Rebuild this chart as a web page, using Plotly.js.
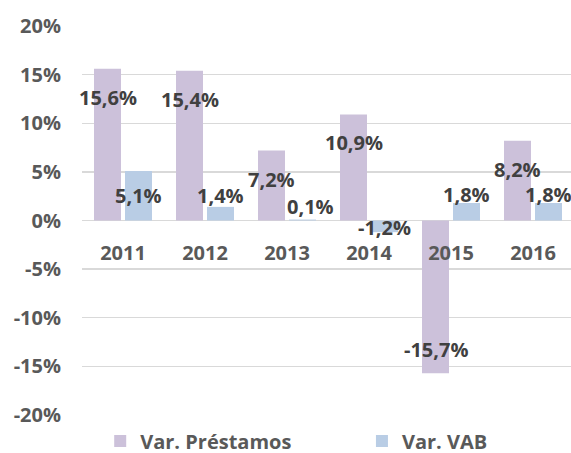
<!DOCTYPE html>
<html>
<head>
<meta charset="utf-8">
<script src="https://cdn.plot.ly/plotly-3.0.1.min.js"></script>
<style>
html, body { margin: 0; padding: 0; overflow: hidden; background: #fff; }
#chart { width: 574px; height: 453px; }
</style>
</head>
<body>
<div id="chart"></div>
<script>
const years = ['2011', '2012', '2013', '2014', '2015', '2016'];
const prestamos = [15.6, 15.4, 7.2, 10.9, -15.7, 8.2];
const vab = [5.1, 1.4, 0.1, -1.2, 1.8, 1.8];
const seriesNames = ['Var. Préstamos', 'Var. VAB'];
const yTickVals = [-20, -15, -10, -5, 0, 5, 10, 15, 20];
const yTickText = ['-20%', '-15%', '-10%', '-5%', '0%', '5%', '10%', '15%', '20%'];

// label placement (pixels, style only)
const prestamosLabelDy = [-29, -29, -29.5, -28, 24, -29];
const vabLabelDy = [-24.5, 11, 13, 5, 8.5, 8.5];
const vabLabelDx = [0, 0, 8, 0, 0, 0];

const textColor = '#595959';
const labelColor = '#404040';
const fontFamily = '"Open Sans", "Liberation Sans", sans-serif';
const purple = '#CCC1DA';
const blue = '#B9CDE5';

function fmt(v) { return v.toFixed(1).replace('.', ',') + '%'; }

const traces = [
  { type: 'bar', name: seriesNames[0], x: years, y: prestamos, marker: { color: purple }, hoverinfo: 'none', legend: 'legend' },
  { type: 'bar', name: seriesNames[1], x: years, y: vab, marker: { color: blue }, hoverinfo: 'none', legend: 'legend2' }
];

const labelFont = { family: fontFamily, size: 20, color: labelColor, weight: 'bold' };
const annotations = [];
years.forEach((yr, i) => {
  annotations.push({ x: i, y: prestamos[i], xref: 'x', yref: 'y', text: fmt(prestamos[i]),
    showarrow: false, xshift: -15.5, yshift: prestamosLabelDy[i], font: labelFont,
    xanchor: 'center', yanchor: 'middle' });
  annotations.push({ x: i, y: vab[i], xref: 'x', yref: 'y', text: fmt(vab[i]),
    showarrow: false, xshift: 15.5 + vabLabelDx[i], yshift: vabLabelDy[i], font: labelFont,
    xanchor: 'center', yanchor: 'middle' });
});

const legendFont = { family: fontFamily, size: 20, color: textColor, weight: 'bold' };

const layout = {
  width: 574, height: 453,
  margin: { l: 82, r: 0, t: 26, b: 38, pad: 0, autoexpand: false },
  paper_bgcolor: '#fff', plot_bgcolor: '#fff',
  barmode: 'group', bargap: 0.244, bargroupgap: 0.129,
  font: { family: fontFamily, color: textColor, size: 20, weight: 'bold' },
  xaxis: {
    type: 'category', anchor: 'free', position: 0.5,
    showgrid: false, showline: false, zeroline: false, ticks: '',
    ticklabelstandoff: 18,
    tickfont: { family: fontFamily, size: 20, color: textColor, weight: 'bold' },
    range: [-0.5, 5.5], fixedrange: true
  },
  yaxis: {
    range: [-20, 20], tickvals: yTickVals, ticktext: yTickText,
    showgrid: true, gridcolor: '#D9D9D9', gridwidth: 1.3,
    zeroline: true, zerolinecolor: '#D9D9D9', zerolinewidth: 1.3,
    showline: false, ticks: '', ticklabelstandoff: 20,
    tickfont: { family: fontFamily, size: 20, color: textColor, weight: 'bold' },
    fixedrange: true
  },
  showlegend: true,
  legend: {
    orientation: 'h', x: 0.037, xanchor: 'left', y: -0.067, yanchor: 'middle',
    font: legendFont, bgcolor: 'rgba(0,0,0,0)'
  },
  legend2: {
    orientation: 'h', x: 0.569, xanchor: 'left', y: -0.067, yanchor: 'middle',
    font: legendFont, bgcolor: 'rgba(0,0,0,0)'
  },
  annotations: annotations
};

Plotly.newPlot('chart', traces, layout, { displayModeBar: false, staticPlot: true });
</script>
</body>
</html>
